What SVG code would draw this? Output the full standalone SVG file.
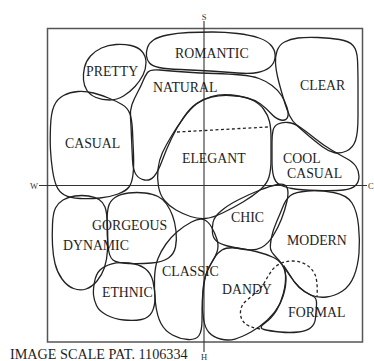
<svg xmlns="http://www.w3.org/2000/svg" width="374" height="361" viewBox="0 0 374 361">
<style>
.b{fill:none;stroke:#222;stroke-width:1.3;stroke-linejoin:round}
.d{fill:none;stroke:#222;stroke-width:1.3;stroke-dasharray:3 2.5}
.ax{stroke:#333;stroke-width:1.1;fill:none}
.t{font-family:"Liberation Serif","Times New Roman",serif;font-size:13.8px;fill:#1e1e1e}
.s{font-family:"Liberation Serif","Times New Roman",serif;font-size:8.5px;fill:#333}
</style>
<rect x="47.5" y="28.5" width="315" height="313.5" fill="none" stroke="#555" stroke-width="1.5"/>
<g id="axes">
<line class="ax" x1="204" y1="21" x2="204" y2="352"/>
<line class="ax" x1="39" y1="185.5" x2="367" y2="185.5"/>
<text class="s" x="204" y="20" text-anchor="middle">S</text>
<text class="s" x="204" y="360" text-anchor="middle">H</text>
<text class="s" x="34" y="189" text-anchor="middle">W</text>
<text class="s" x="368" y="189">C</text>
</g>
<g id="romantic"><path class="b" d="M146.5,56 Q146,52 147.5,47.5 Q149,43 153.5,40 Q158,37 167.5,35 Q177,33 188.5,32.5 Q200,32 212.5,32 Q225,32 237.5,33.5 Q250,35 259,38 Q268,41 272,46.5 Q276,52 275,58 Q274,64 269.5,67.5 Q265,71 257.5,72.5 Q250,74 237.5,73 Q225,72 210,71 Q195,70 180.5,69.5 Q166,69 159,67.5 Q152,66 149.5,63 Q147,60 146.5,56 Z"/><text class="t" x="175" y="58">ROMANTIC</text></g>
<g id="pretty"><path class="b" d="M83.5,80 Q83,74 84.5,67.5 Q86,61 90.5,56 Q95,51 101.5,48 Q108,45 116,44.5 Q124,44 131,45.5 Q138,47 142,51.5 Q146,56 146,62.5 Q146,69 143,75 Q140,81 135,86.5 Q130,92 123.5,96 Q117,100 109.5,100 Q102,100 96,97.5 Q90,95 87,90.5 Q84,86 83.5,80 Z"/><text class="t" x="86" y="76">PRETTY</text></g>
<g id="clear"><path class="b" d="M275.5,63.5 Q275,57 277,51 Q279,45 284.5,42 Q290,39 298,38 Q306,37 318,37.5 Q330,38 339.5,39.5 Q349,41 353,45.5 Q357,50 357.5,60 Q358,70 358,85 Q358,100 358,116.5 Q358,133 355.5,140.5 Q353,148 346.5,151 Q340,154 334,152.5 Q328,151 322,146.5 Q316,142 309.5,136.5 Q303,131 297.5,126 Q292,121 289.5,115.5 Q287,110 285,103.5 Q283,97 281,90 Q279,83 277.5,76.5 Q276,70 275.5,63.5 Z"/><text class="t" x="300" y="90">CLEAR</text></g>
<g id="natural"><path class="b" d="M147.5,72.5 Q150,69 160,70 Q170,71 185,72 Q200,73 215,73.5 Q230,74 241,75 Q252,76 259,78.5 Q266,81 272,85.5 Q278,90 281.5,95.5 Q285,101 287,107.5 Q289,114 287.5,117.5 Q286,121 281,120 Q276,119 271,113.5 Q266,108 260.5,104 Q255,100 247.5,98 Q240,96 230,95.5 Q220,95 211.5,97 Q203,99 196.5,103.5 Q190,108 183.5,117.5 Q177,127 171.5,138.5 Q166,150 162,161 Q158,172 154,176.5 Q150,181 144.5,180 Q139,179 136,174.5 Q133,170 132.5,160 Q132,150 131.5,137.5 Q131,125 130.5,117.5 Q130,110 132,104.5 Q134,99 137.5,92.5 Q141,86 143,81 Q145,76 147.5,72.5 Z"/><text class="t" x="153" y="92">NATURAL</text></g>
<g id="elegant"><path class="b" d="M158.5,186.5 Q157,178 158,169 Q159,160 162.5,152.5 Q166,145 171.5,136 Q177,127 183.5,118 Q190,109 196.5,104 Q203,99 211.5,96.5 Q220,94 231.5,95 Q243,96 251,99.5 Q259,103 263.5,109 Q268,115 269.5,121.5 Q271,128 271,139 Q271,150 271,160 Q271,170 269,177 Q267,184 260,190 Q253,196 243,202 Q233,208 222.5,213 Q212,218 205,218.5 Q198,219 190.5,216.5 Q183,214 176,210 Q169,206 164.5,200.5 Q160,195 158.5,186.5 Z"/><path class="d" d="M177,132 L268,127"/><text class="t" x="182" y="163">ELEGANT</text></g>
<g id="casual"><path class="b" d="M50.5,150 Q50,140 50.5,126.5 Q51,113 54,106 Q57,99 63.5,95.5 Q70,92 78,91.5 Q86,91 93.5,93 Q101,95 108.5,98 Q116,101 122,104.5 Q128,108 130,114 Q132,120 132.5,131 Q133,142 133.5,154 Q134,166 133,174.5 Q132,183 129,187 Q126,191 118,194 Q110,197 100,198 Q90,199 80,198.5 Q70,198 64.5,195 Q59,192 56.5,186 Q54,180 52.5,170 Q51,160 50.5,150 Z"/><text class="t" x="65" y="148">CASUAL</text></g>
<g id="cool-casual"><path class="b" d="M272,142.5 Q272,135 273,130.5 Q274,126 278,124 Q282,122 288,122.5 Q294,123 300.5,127.5 Q307,132 315,138.5 Q323,145 331.5,150 Q340,155 346.5,158.5 Q353,162 356,166.5 Q359,171 359,176.5 Q359,182 355.5,185.5 Q352,189 343.5,190 Q335,191 317.5,190.5 Q300,190 292,188.5 Q284,187 279.5,184.5 Q275,182 273.5,176 Q272,170 272,160 Q272,150 272,142.5 Z"/><text class="t" x="283" y="163">COOL</text><text class="t" x="287" y="178">CASUAL</text></g>
<g id="gorgeous"><path class="b" d="M107,223.5 Q107,212 108.5,206.5 Q110,201 115,197.5 Q120,194 128.5,193 Q137,192 145,193 Q153,194 158,196.5 Q163,199 166.5,204 Q170,209 172.5,215.5 Q175,222 176,231 Q177,240 175.5,247 Q174,254 168.5,258 Q163,262 151.5,263 Q140,264 128.5,263.5 Q117,263 113,260 Q109,257 108,246 Q107,235 107,223.5 Z"/><text class="t" x="92" y="230">GORGEOUS</text></g>
<g id="dynamic"><path class="b" d="M52.5,245 Q52,235 52.5,224 Q53,213 55.5,208 Q58,203 63,200 Q68,197 75,196 Q82,195 88.5,196 Q95,197 99,199.5 Q103,202 105,207 Q107,212 107.5,226 Q108,240 107.5,250 Q107,260 104.5,267.5 Q102,275 97,281 Q92,287 86,289 Q80,291 73.5,288.5 Q67,286 62,279 Q57,272 55,263.5 Q53,255 52.5,245 Z"/><text class="t" x="63" y="250">DYNAMIC</text></g>
<g id="ethnic"><path class="b" d="M93.5,295 Q93,290 94.5,282 Q96,274 100,270 Q104,266 111,264 Q118,262 128.5,263 Q139,264 145,268.5 Q151,273 153,281.5 Q155,290 155,298 Q155,306 152,312 Q149,318 141.5,319.5 Q134,321 124,320 Q114,319 106.5,315 Q99,311 96.5,305.5 Q94,300 93.5,295 Z"/><text class="t" x="102" y="297">ETHNIC</text></g>
<g id="classic"><path class="b" d="M155.5,303 Q154,290 154.5,278 Q155,266 158,258.5 Q161,251 166,244 Q171,237 177.5,231.5 Q184,226 191.5,222 Q199,218 203.5,219.5 Q208,221 211.5,227 Q215,233 217,239.5 Q219,246 217,252 Q215,258 211,264 Q207,270 205,277.5 Q203,285 202.5,297.5 Q202,310 202,320.5 Q202,331 199,335.5 Q196,340 188,339.5 Q180,339 172.5,335 Q165,331 161,323.5 Q157,316 155.5,303 Z"/><text class="t" x="162" y="276">CLASSIC</text></g>
<g id="chic"><path class="b" d="M212.5,233 Q212,228 213,222.5 Q214,217 221,211 Q228,205 239,199.5 Q250,194 260,190 Q270,186 277.5,184.5 Q285,183 287,187.5 Q289,192 287,201 Q285,210 281.5,219 Q278,228 273,236 Q268,244 261.5,247.5 Q255,251 245,249.5 Q235,248 227.5,246 Q220,244 216.5,241 Q213,238 212.5,233 Z"/><text class="t" x="231" y="222">CHIC</text></g>
<g id="modern"><path class="b" d="M270.5,248.5 Q270,245 271.5,237.5 Q273,230 276.5,222 Q280,214 283,206.5 Q286,199 290.5,195.5 Q295,192 307.5,191 Q320,190 333.5,192.5 Q347,195 352,203 Q357,211 358.5,225.5 Q360,240 359,253 Q358,266 354,276 Q350,286 342.5,291 Q335,296 326.5,297 Q318,298 311,295 Q304,292 299,287 Q294,282 290,276 Q286,270 282.5,265 Q279,260 275,256 Q271,252 270.5,248.5 Z"/><text class="t" x="287" y="245">MODERN</text></g>
<g id="dandy"><path class="b" d="M202.5,301 Q203,292 204,284 Q205,276 207.5,270.5 Q210,265 213.5,259 Q217,253 222,250 Q227,247 236.5,248 Q246,249 256,251.5 Q266,254 273.5,257.5 Q281,261 284,268.5 Q287,276 285.5,286 Q284,296 279.5,304.5 Q275,313 267.5,320 Q260,327 251,332 Q242,337 235,339 Q228,341 220.5,339 Q213,337 209,332.5 Q205,328 203.5,319 Q202,310 202.5,301 Z"/><text class="t" x="222" y="294">DANDY</text></g>
<g id="formal"><path class="b" d="M284,266 Q288,272 294.5,282 Q299,288 304.5,291.5 Q310,295 313.5,296.5 Q317,298 316.5,305 Q316,312 315.5,318 Q315,324 311,327.5 Q307,331 298.5,332 Q290,333 280,332 Q270,331 264,329.5 Q258,328 265,323 Q272,318 276.5,310.5 Q281,303 283.5,293 Q286,283 285.5,275 Q285,269 284,266 Z"/><text class="t" x="288" y="317">FORMAL</text></g>
<g id="connectors"><path class="d" d="M260,329 Q248,327 244,322.5 Q240,318 240.5,311.5 Q241,305 246.5,300.5 Q252,296 257,291.5 Q262,287 265,281.5 Q268,276 271.5,271 Q275,266 280.5,263.5 Q286,261 292.5,261 Q299,261 305,264 Q311,267 314.5,273.5 Q318,280 317,297"/></g>
<text class="t" x="10" y="359" style="font-size:14.2px">IMAGE SCALE PAT. 1106334</text>
</svg>
